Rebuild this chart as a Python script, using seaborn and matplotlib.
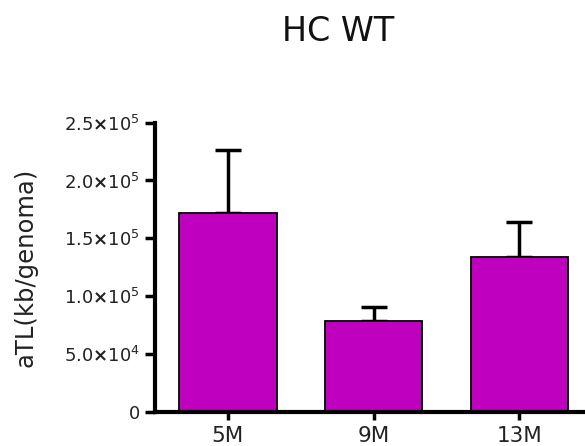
import matplotlib
matplotlib.use("Agg")
import matplotlib.pyplot as plt
import seaborn as sns
import pandas as pd
import numpy as np

categories = ["5M", "9M", "13M"]
means = [171600, 78700, 134100]
upper_err = [54800, 11600, 30300]
ytick_values = [0, 50000, 100000, 150000, 200000, 250000]
ytick_labels = ["0",
                r"5.0$\mathbf{\times}$10$^{4}$",
                r"1.0$\mathbf{\times}$10$^{5}$",
                r"1.5$\mathbf{\times}$10$^{5}$",
                r"2.0$\mathbf{\times}$10$^{5}$",
                r"2.5$\mathbf{\times}$10$^{5}$"]

sns.set_theme(style="ticks")
plt.rcParams['font.family'] = ['DejaVu Sans']
plt.rcParams['mathtext.fontset'] = 'dejavusans'

df = pd.DataFrame({"group": categories, "value": means})

fig = plt.figure(figsize=(5.85, 4.46), dpi=100)
ax = fig.add_axes([0.265, 0.077, 0.735, 0.648])

sns.barplot(data=df, x="group", y="value", color="#BF00BF", saturation=1,
            width=0.667, edgecolor="black", linewidth=1.3, errorbar=None, ax=ax, zorder=2)

xs = np.arange(len(categories))
ax.errorbar(xs, means, yerr=[np.zeros(len(means)), upper_err], fmt="none",
            ecolor="black", elinewidth=2.5, capsize=9.4, capthick=2.5, zorder=1)

ax.set_xlim(-0.5, 2.45)
ax.set_ylim(0, 250000)
ax.set_yticks(ytick_values)
ax.set_yticklabels(ytick_labels)
ax.set_xlabel("")
ax.set_ylabel("aTL(kb/genoma)", fontsize=17.5, color="#222222", labelpad=19)
ax.tick_params(axis="y", length=7, width=2.5, labelsize=13, pad=4, colors="black", labelcolor="#222222")
ax.tick_params(axis="x", length=6, width=2.5, labelsize=15.5, pad=4, colors="black", labelcolor="#222222")
for s in ["top", "right"]:
    ax.spines[s].set_visible(False)
for s in ["left", "bottom"]:
    ax.spines[s].set_linewidth(3)
    ax.spines[s].set_color("black")

fig.text(0.578, 0.929, "HC WT", ha="center", va="center", fontsize=24, color="#111111")

fig.savefig("out.png", dpi=100)
